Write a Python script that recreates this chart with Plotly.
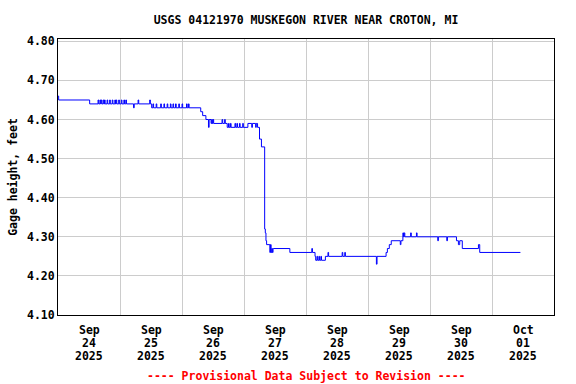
import pandas as pd
import plotly.graph_objects as go

# Hours after 2025-09-24 00:00 where the gage height changes, and the new value
hours = [0, 0.25, 12.25,
         15.5, 15.75, 16.25, 16.5, 16.75, 17.0, 17.5, 17.75, 18.0, 18.25, 19.0, 19.25,
         20.0, 20.25, 21.0, 21.25, 22.0, 22.25, 22.5, 22.75, 23.5, 23.75, 24.5, 24.75,
         25.5, 25.75, 26.25, 26.5, 29.25, 29.5, 31.0, 31.25, 35.5, 35.75,
         36.25, 36.75, 37.0, 38.0, 38.25, 39.75, 40.0, 41.0, 41.25, 42.25, 42.5,
         43.5, 43.75, 44.5, 44.75, 45.5, 45.75, 46.75, 47.0, 48.0, 48.25, 49.75, 50.0,
         50.5, 50.75,
         55.25, 56.0, 57.25, 58.25, 58.5, 59.25, 59.5, 59.75, 60.0, 60.25,
         63.5, 63.75, 64.5, 64.75, 65.5,
         66.0, 66.25, 66.75, 67.0, 68.5, 68.75, 69.25, 69.5, 70.25, 70.5, 71.5, 71.75,
         73.5, 75.0, 75.25, 76.5, 76.75, 77.25, 78.0, 78.75,
         80.0, 80.25, 80.5, 80.75, 82.0, 82.25, 82.5, 82.75, 83.0, 83.25, 83.5,
         89.75, 98.25, 98.5, 99.5, 99.75, 100.25, 100.5, 101.0, 101.25, 101.75, 102.0,
         103.5, 104.5, 104.75, 110.0, 110.25, 111.0, 111.25, 123.25, 123.5,
         127.0, 127.5, 128.25, 129.0, 132.5, 132.75,
         133.5, 133.75, 134.0, 134.25, 136.5, 136.75, 138.75, 139.0,
         147.0, 147.25, 150.5, 150.75, 154.25, 155.0, 155.5, 156.5,
         162.75, 163.25, 179.0]
gage_ft = [4.66, 4.65, 4.64,
           4.65, 4.64, 4.65, 4.64, 4.65, 4.64, 4.65, 4.64, 4.65, 4.64, 4.65, 4.64,
           4.65, 4.64, 4.65, 4.64, 4.65, 4.64, 4.65, 4.64, 4.65, 4.64, 4.65, 4.64,
           4.65, 4.64, 4.65, 4.64, 4.63, 4.64, 4.65, 4.64, 4.65, 4.64,
           4.63, 4.64, 4.63, 4.64, 4.63, 4.64, 4.63, 4.64, 4.63, 4.64, 4.63,
           4.64, 4.63, 4.64, 4.63, 4.64, 4.63, 4.64, 4.63, 4.64, 4.63, 4.64, 4.63,
           4.64, 4.63,
           4.62, 4.61, 4.60, 4.58, 4.60, 4.59, 4.60, 4.59, 4.60, 4.59,
           4.60, 4.59, 4.60, 4.59, 4.58,
           4.59, 4.58, 4.59, 4.58, 4.59, 4.58, 4.59, 4.58, 4.59, 4.58, 4.59, 4.58,
           4.59, 4.58, 4.59, 4.58, 4.59, 4.58, 4.55, 4.53,
           4.32, 4.31, 4.29, 4.28, 4.26, 4.28, 4.26, 4.27, 4.26, 4.27, 4.27,
           4.26, 4.27, 4.26, 4.25, 4.24, 4.25, 4.24, 4.25, 4.24, 4.25, 4.24,
           4.25, 4.26, 4.25, 4.26, 4.25, 4.26, 4.25, 4.23, 4.25,
           4.26, 4.27, 4.28, 4.29, 4.28, 4.29,
           4.31, 4.30, 4.31, 4.30, 4.31, 4.30, 4.31, 4.30,
           4.29, 4.30, 4.29, 4.30, 4.29, 4.28, 4.29, 4.27,
           4.28, 4.26, 4.26]

month_labels = ["Sep", "Sep", "Sep", "Sep", "Sep", "Sep", "Sep", "Oct"]
day_numbers = ["24", "25", "26", "27", "28", "29", "30", "01"]
year_labels = ["2025"] * 8
y_ticks = [4.10, 4.20, 4.30, 4.40, 4.50, 4.60, 4.70, 4.80]

start = pd.Timestamp("2025-09-24 00:00")
times = start + pd.to_timedelta(hours, unit="h")
days = pd.date_range("2025-09-24", periods=9, freq="D")
noons = days[:-1] + pd.Timedelta(hours=12)

FONT = "DejaVu Sans Mono"
PLOT_TOP, PLOT_BOTTOM = 39, 315
PLOT_H = PLOT_BOTTOM - PLOT_TOP


def paper_y(px):
    return (PLOT_BOTTOM - px) / PLOT_H


fig = go.Figure(go.Scatter(x=times, y=gage_ft, mode="lines",
                           line=dict(color="#0000FF", width=1, shape="hv"),
                           hoverinfo="skip"))

annotations = []
for row_text, row_y in ((month_labels, 330), (day_numbers, 343), (year_labels, 355.5)):
    for t, txt in zip(noons, row_text):
        annotations.append(dict(text=txt, x=t, xref="x", xanchor="center",
                                y=paper_y(row_y), yref="paper", yanchor="middle",
                                showarrow=False,
                                font=dict(family=FONT, size=11.5, color="black",
                                          weight="bold")))
annotations.append(dict(text="---- Provisional Data Subject to Revision ----",
                        x=0.5, xref="paper", xanchor="center",
                        y=paper_y(375.5), yref="paper", yanchor="middle",
                        showarrow=False,
                        font=dict(family=FONT, size=11.5, color="#FF0000", weight="bold")))

fig.update_layout(
    width=576, height=384,
    margin=dict(l=58, r=22, t=PLOT_TOP, b=384 - PLOT_BOTTOM, autoexpand=False),
    paper_bgcolor="white", plot_bgcolor="white",
    showlegend=False,
    font=dict(family=FONT, size=11.5, color="black", weight="bold"),
    title=dict(text="USGS 04121970 MUSKEGON RIVER NEAR CROTON, MI",
               x=0.5, xanchor="center", xref="paper",
               y=1 - 20 / 384, yanchor="middle", yref="container",
               font=dict(family=FONT, size=11.5, color="black", weight="bold")),
    xaxis=dict(type="date", range=[days[0], days[-1]],
               tickmode="array", tickvals=list(noons), showticklabels=False,
               showgrid=False, ticks="", zeroline=False,
               showline=True, linecolor="black", linewidth=1, mirror=True,
               minor=dict(tickmode="array", tickvals=list(days),
                          showgrid=True, gridcolor="#cccccc", gridwidth=1, ticks="")),
    yaxis=dict(range=[4.10, 4.806], tickmode="array", tickvals=y_ticks,
               tickformat=".2f", showgrid=True, gridcolor="#cccccc", gridwidth=1,
               ticks="", zeroline=False,
               showline=True, linecolor="black", linewidth=1, mirror=True,
               title=dict(text="Gage height, feet", standoff=6,
                          font=dict(family=FONT, size=11.5, color="black", weight="bold")),
               tickfont=dict(family=FONT, size=11.5, color="black", weight="bold")),
    annotations=annotations,
)

fig.write_html("out.html", config={"displayModeBar": False, "staticPlot": True},
               post_script="document.body.style.margin='0';")
